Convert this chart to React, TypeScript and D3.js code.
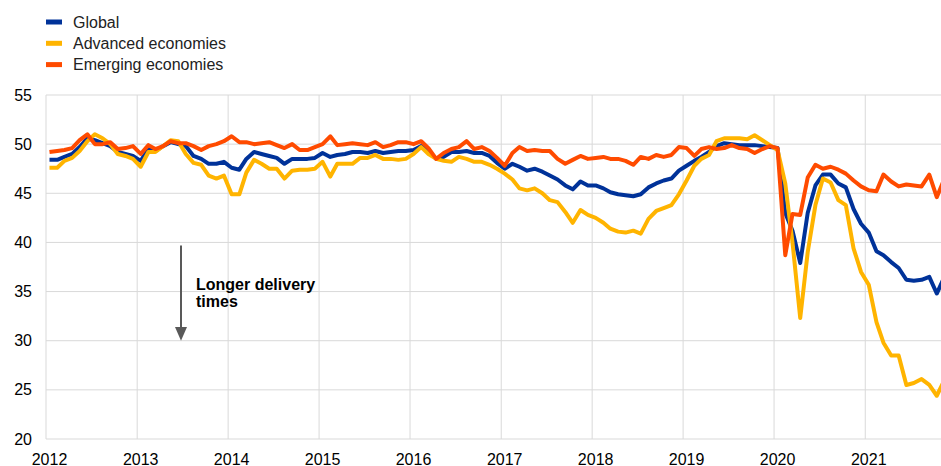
import React from "react";
import * as d3 from "d3";

const years = [2012, 2013, 2014, 2015, 2016, 2017, 2018, 2019, 2020, 2021];
const yTicks = [20, 25, 30, 35, 40, 45, 50, 55];
const seriesNames = ["Global", "Advanced economies", "Emerging economies"];
const seriesColors = ["#003299", "#FFB400", "#FF4B00"];

// Monthly values, Jan 2012 - Nov 2021
const globalValues = [
  48.4, 48.4, 48.7, 49.0, 49.7, 50.6, 50.4, 50.1, 49.8, 49.2,
  49.0, 48.8, 48.3, 49.5, 49.3, 49.8, 50.2, 50.0, 49.8, 48.8,
  48.5, 48.0, 48.0, 48.2, 47.6, 47.4, 48.5, 49.2, 49.0, 48.8,
  48.6, 48.0, 48.5, 48.5, 48.5, 48.6, 49.1, 48.7, 48.9, 49.0,
  49.2, 49.2, 49.1, 49.3, 49.1, 49.2, 49.3, 49.3, 49.4, 49.8,
  49.3, 48.5, 48.7, 49.2, 49.2, 49.3, 49.1, 49.1, 48.8, 48.1,
  47.5, 48.0, 47.7, 47.3, 47.5, 47.2, 46.8, 46.4, 45.8, 45.4,
  46.2, 45.8, 45.8, 45.5, 45.1, 44.9, 44.8, 44.7, 44.9, 45.6,
  46.0, 46.3, 46.5, 47.3, 47.8, 48.3, 48.7, 49.2, 49.8, 50.1,
  50.0, 49.9, 49.9, 49.9, 49.8, 49.7, 49.6, 43.0, 41.2, 37.9,
  43.0, 45.8, 46.9, 46.9, 46.0, 45.6, 43.4, 41.9, 41.0, 39.1,
  38.7, 38.0, 37.4, 36.2, 36.1, 36.2, 36.5, 34.8, 36.5,
];

const advancedValues = [
  47.6, 47.6, 48.3, 48.6, 49.3, 50.3, 51.0, 50.6, 50.0, 49.0,
  48.8, 48.5, 47.7, 49.2, 49.2, 49.8, 50.4, 50.3, 49.0, 48.1,
  47.9, 46.8, 46.5, 46.8, 44.9, 44.9, 47.1, 48.4, 48.0, 47.5,
  47.5, 46.5, 47.3, 47.4, 47.4, 47.5, 48.2, 46.7, 48.0, 48.0,
  48.0, 48.6, 48.6, 48.9, 48.5, 48.5, 48.4, 48.5, 49.0, 49.7,
  49.0, 48.5, 48.3, 48.2, 48.7, 48.5, 48.2, 48.2, 47.9, 47.5,
  47.0, 46.4, 45.5, 45.3, 45.5, 45.0, 44.3, 44.1, 43.1, 42.0,
  43.3, 42.8, 42.5, 42.0, 41.4, 41.1, 41.0, 41.2, 40.9, 42.4,
  43.2, 43.5, 43.8, 44.9, 46.3, 47.8, 48.5, 48.9, 50.3, 50.6,
  50.6, 50.6, 50.5, 50.9, 50.4, 49.9, 49.4, 46.0, 40.0, 32.3,
  39.0, 43.8, 46.5, 46.1, 44.3, 43.8, 39.4, 37.0, 35.7, 31.9,
  29.8, 28.5, 28.5, 25.5, 25.7, 26.1, 25.5, 24.4, 26.0,
];

const emergingValues = [
  49.2, 49.3, 49.4, 49.6, 50.4, 51.0, 50.0, 50.0, 50.2, 49.5,
  49.6, 49.8, 49.0, 49.9, 49.5, 49.8, 50.3, 50.1, 50.1, 49.8,
  49.4, 49.8, 50.0, 50.3, 50.8, 50.2, 50.2, 50.0, 50.1, 50.2,
  49.9, 49.6, 50.0, 49.4, 49.4, 49.7, 50.0, 50.8, 49.9, 50.0,
  50.1, 50.0, 49.9, 50.2, 49.7, 49.9, 50.2, 50.2, 50.0, 50.3,
  49.6, 48.5, 49.1, 49.5, 49.7, 50.3, 49.5, 49.7, 49.3, 48.6,
  47.8, 49.1, 49.7, 49.3, 49.4, 49.3, 49.3, 48.5, 48.0, 48.4,
  48.8, 48.5, 48.6, 48.7, 48.5, 48.5, 48.3, 47.9, 48.7, 48.5,
  48.9, 48.7, 48.9, 49.7, 49.6, 48.8, 49.5, 49.7, 49.5, 49.6,
  49.9, 49.6, 49.5, 49.1, 49.5, 49.8, 49.6, 38.7, 42.9, 42.8,
  46.6, 47.9, 47.5, 47.7, 47.4, 47.0, 46.3, 45.7, 45.3, 45.2,
  46.9, 46.2, 45.7, 45.9, 45.8, 45.7, 46.9, 44.6, 46.5,
];

const allSeries = [globalValues, advancedValues, emergingValues];
const annotationLines = ["Longer delivery", "times"];

export default function App() {
  const W = 941;
  const H = 466;
  const left = 46;
  const right = 941;
  const top = 95;
  const bottom = 439;
  const font = "Arial, 'Liberation Sans', Helvetica, sans-serif";

  const x = d3
    .scaleTime()
    .domain([new Date(2012, 0, 1), new Date(2021, 10, 1)])
    .range([left, right]);
  const y = d3.scaleLinear().domain([20, 55]).range([bottom, top]);

  const dates = globalValues.map((_, i) => new Date(2012, i, 15));
  const line = d3
    .line<number>()
    .x((_, i) => x(dates[i]))
    .y((d) => y(d))
    .curve(d3.curveLinear);

  const grid = "#d9d9d9";

  return (
    <svg
      width={W}
      height={H}
      style={{ position: "absolute", left: 0, top: 0, background: "#fff" }}
      fontFamily={font}
    >
      <defs>
        <clipPath id="plot">
          <rect x={left} y={0} width={right - left} height={H} />
        </clipPath>
      </defs>
      <rect x={0} y={0} width={W} height={H} fill="#fff" />
      {/* horizontal gridlines */}
      {yTicks.map((t) => (
        <line key={"h" + t} x1={left} x2={right} y1={y(t)} y2={y(t)} stroke={grid} strokeWidth={1} />
      ))}
      {/* vertical gridlines at year starts */}
      {years.map((yr) => (
        <line
          key={"v" + yr}
          x1={x(new Date(yr, 0, 1))}
          x2={x(new Date(yr, 0, 1))}
          y1={top}
          y2={bottom}
          stroke={grid}
          strokeWidth={1}
        />
      ))}
      {/* y tick labels */}
      {yTicks.map((t) => (
        <text key={"yl" + t} x={32} y={y(t) + 5.5} textAnchor="end" fontSize={16} fill="#000">
          {t}
        </text>
      ))}
      {/* x tick labels */}
      {years.map((yr) => (
        <text
          key={"xl" + yr}
          x={x(new Date(yr, 0, 15))}
          y={464.5}
          textAnchor="middle"
          fontSize={16}
          fill="#000"
        >
          {yr}
        </text>
      ))}
      {/* series */}
      <g clipPath="url(#plot)">
        {allSeries.map((vals, k) => (
          <path
            key={"s" + k}
            d={line(vals) || ""}
            fill="none"
            stroke={seriesColors[k]}
            strokeWidth={4}
            strokeLinejoin="round"
          />
        ))}
      </g>
      {/* annotation arrow */}
      <line x1={181} x2={181} y1={y(39.7)} y2={y(31.2)} stroke="#595959" strokeWidth={2} />
      <path
        d={`M ${175} ${y(31.4)} L ${187} ${y(31.4)} L ${181} ${y(30.0)} Z`}
        fill="#595959"
      />
      {annotationLines.map((s, i) => (
        <text key={"a" + i} x={196} y={290 + i * 17} fontSize={16} fontWeight="bold" fill="#000">
          {s}
        </text>
      ))}
      {/* legend */}
      {seriesNames.map((n, i) => (
        <g key={"lg" + i}>
          <rect x={46} y={19.5 + i * 21.3} width={16} height={5} fill={seriesColors[i]} />
          <text x={73} y={27.5 + i * 21.3} fontSize={16} fill="#222">
            {n}
          </text>
        </g>
      ))}
    </svg>
  );
}
